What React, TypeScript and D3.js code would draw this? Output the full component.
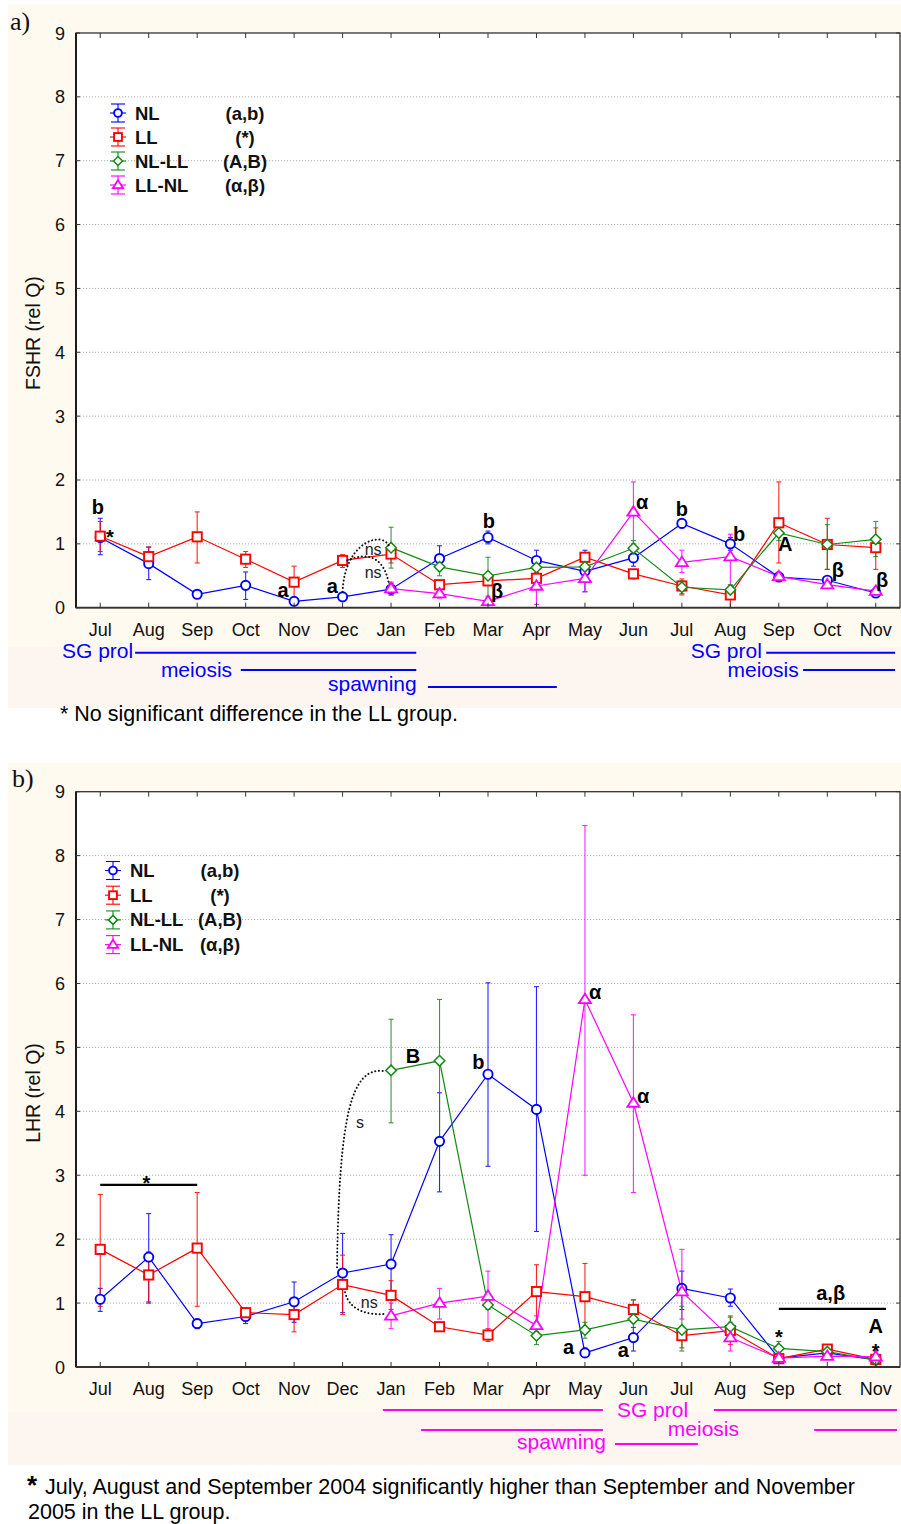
import * as d3 from 'd3';

const months = ['Jul', 'Aug', 'Sep', 'Oct', 'Nov', 'Dec', 'Jan', 'Feb', 'Mar', 'Apr', 'May', 'Jun', 'Jul', 'Aug', 'Sep', 'Oct', 'Nov'];
const yTicks = [0, 1, 2, 3, 4, 5, 6, 7, 8, 9];
const N = null;

// a) FSHR
const fshrNL = [1.10, 0.69, 0.21, 0.35, 0.10, 0.17, 0.29, 0.77, 1.10, 0.74, 0.57, 0.78, 1.32, 1.00, 0.48, 0.43, 0.23];
const fshrNLLo = [0.83, 0.44, 0.18, 0.13, 0.07, 0.14, 0.20, 0.59, 1.00, 0.59, 0.25, 0.65, 1.25, 0.90, 0.44, 0.38, 0.20];
const fshrNLHi = [1.40, 0.95, 0.24, 0.56, 0.13, 0.20, 0.38, 0.97, 1.20, 0.90, 0.90, 0.92, 1.38, 1.10, 0.52, 0.48, 0.26];
const fshrLL = [1.12, 0.80, 1.11, 0.76, 0.40, 0.74, 0.84, 0.36, 0.42, 0.46, 0.79, 0.53, 0.34, 0.20, 1.33, 0.99, 0.94];
const fshrLLLo = [0.88, 0.70, 0.70, 0.63, 0.13, 0.63, 0.70, 0.30, 0.36, 0.38, 0.72, 0.45, 0.20, 0.00, 0.70, 0.60, 0.60];
const fshrLLHi = [1.35, 0.95, 1.50, 0.88, 0.65, 0.83, 0.98, 0.42, 0.48, 0.55, 0.86, 0.60, 0.45, 0.32, 1.97, 1.40, 1.25];
const fshrNLLL = [N, N, N, N, N, N, 0.94, 0.64, 0.50, 0.63, 0.64, 0.93, 0.32, 0.28, 1.17, 0.99, 1.07];
const fshrNLLLLo = [N, N, N, N, N, N, 0.62, 0.50, 0.18, 0.50, 0.55, 0.80, 0.22, 0.20, 1.05, 0.60, 0.80];
const fshrNLLLHi = [N, N, N, N, N, N, 1.26, 0.78, 0.79, 0.75, 0.73, 1.05, 0.42, 0.36, 1.28, 1.30, 1.35];
const fshrLLNL = [N, N, N, N, N, N, 0.30, 0.22, 0.10, 0.34, 0.46, 1.50, 0.71, 0.80, 0.49, 0.36, 0.26];
const fshrLLNLLo = [N, N, N, N, N, N, 0.20, 0.15, 0.05, 0.05, 0.25, 1.00, 0.55, 0.35, 0.42, 0.30, 0.20];
const fshrLLNLHi = [N, N, N, N, N, N, 0.40, 0.30, 0.15, 0.60, 0.65, 1.97, 0.90, 1.15, 0.56, 0.42, 0.32];

// b) LHR
const lhrNL = [1.06, 1.72, 0.68, 0.79, 1.02, 1.47, 1.61, 3.53, 4.58, 4.03, 0.22, 0.46, 1.23, 1.08, 0.14, 0.22, 0.11];
const lhrNLLo = [0.87, 1.00, 0.60, 0.68, 0.70, 0.85, 1.10, 2.74, 3.14, 2.12, 0.16, 0.25, 0.90, 0.95, 0.10, 0.18, 0.08];
const lhrNLHi = [1.23, 2.40, 0.75, 0.85, 1.33, 2.09, 2.07, 4.29, 6.01, 5.95, 0.30, 0.62, 1.50, 1.22, 0.18, 0.26, 0.14];
const lhrLL = [1.84, 1.44, 1.86, 0.85, 0.82, 1.29, 1.12, 0.63, 0.50, 1.18, 1.10, 0.90, 0.49, 0.57, 0.13, 0.28, 0.12];
const lhrLLLo = [0.95, 1.02, 0.95, 0.78, 0.55, 0.82, 0.90, 0.58, 0.40, 0.70, 0.60, 0.70, 0.30, 0.35, 0.10, 0.22, 0.09];
const lhrLLHi = [2.70, 1.80, 2.73, 0.92, 1.00, 1.75, 1.35, 0.68, 0.60, 1.60, 1.62, 1.05, 0.62, 0.78, 0.16, 0.35, 0.15];
const lhrNLLL = [N, N, N, N, N, N, 4.64, 4.79, 0.97, 0.49, 0.58, 0.75, 0.58, 0.63, 0.29, 0.24, 0.11];
const lhrNLLLLo = [N, N, N, N, N, N, 3.82, 3.50, 0.90, 0.35, 0.45, 0.45, 0.25, 0.50, 0.18, 0.20, 0.08];
const lhrNLLLHi = [N, N, N, N, N, N, 5.44, 5.75, 1.05, 0.55, 0.70, 1.05, 0.95, 0.80, 0.40, 0.28, 0.14];
const lhrLLNL = [N, N, N, N, N, N, 0.80, 1.00, 1.11, 0.65, 5.75, 4.13, 1.18, 0.46, 0.14, 0.17, 0.16];
const lhrLLNLLo = [N, N, N, N, N, N, 0.60, 0.75, 0.50, 0.55, 3.00, 2.73, 0.75, 0.25, 0.10, 0.13, 0.10];
const lhrLLNLHi = [N, N, N, N, N, N, 1.00, 1.23, 1.50, 0.80, 8.47, 5.51, 1.84, 0.70, 0.18, 0.21, 0.25];

const groupNames = ['NL', 'LL', 'NL-LL', 'LL-NL'];
const groupCodes = ['(a,b)', '(*)', '(A,B)', '(α,β)'];
const groupColors = ['#0000ff', '#ff0000', '#138a13', '#ff00ff'];
const groupShapes = ['circle', 'square', 'diamond', 'triangle'];

// significance letters: [month index, value at baseline, text]
const notesA: [number, number, string][] = [
  [-0.05, 1.47, 'b'], [0.2, 1.0, '*'], [3.77, 0.17, 'a'], [4.79, 0.23, 'a'],
  [8.02, 1.25, 'b'], [8.19, 0.15, 'β'], [11.18, 1.55, 'α'], [12.0, 1.43, 'b'],
  [13.18, 1.04, 'b'], [14.13, 0.89, 'A'], [15.22, 0.48, 'β'], [16.13, 0.32, 'β'],
];
const notesB: [number, number, string][] = [
  [0.95, 2.77, '*'], [6.45, 4.76, 'B'], [7.8, 4.66, 'b'], [10.21, 5.76, 'α'],
  [11.2, 4.13, 'α'], [9.66, 0.2, 'a'], [10.79, 0.16, 'a'], [15.07, 1.05, 'a,β'],
  [16.0, 0.53, 'A'], [14.0, 0.36, '*'], [16.0, 0.14, '*'],
];
const smallA: [number, number, string][] = [[5.63, 0.83, 'ns'], [5.63, 0.47, 'ns']];
const smallB: [number, number, string][] = [[5.36, 3.74, 's'], [5.55, 0.92, 'ns']];

// dotted comparison arcs, cubic bezier in (month index, value)
const arcsA = [
  [[5.0, 0.25], [5.04, 1.06], [5.87, 1.22], [5.97, 0.94]],
  [[5.1, 0.74], [5.57, 0.9], [5.88, 0.75], [5.96, 0.35]],
];
const arcsB = [
  [[4.885, 1.56], [4.93, 4.0], [5.19, 4.69], [5.85, 4.63]],
  [[5.05, 1.17], [5.15, 0.86], [5.57, 0.81], [5.88, 0.83]],
];
const barsB = [[0, 2, 2.85], [14.0, 16.21, 0.91]];

// reproductive phases: label, text index, anchor, line spans
const phasesA = [
  { label: 'SG prol', at: 0.68, anchor: 'end', row: 0, spans: [[0.72, 6.52]] },
  { label: 'SG prol', at: 13.65, anchor: 'end', row: 0, spans: [[13.74, 16.4]] },
  { label: 'meiosis', at: 2.72, anchor: 'end', row: 1, spans: [[2.9, 6.52]] },
  { label: 'meiosis', at: 14.41, anchor: 'end', row: 1, spans: [[14.5, 16.4]] },
  { label: 'spawning', at: 6.53, anchor: 'end', row: 2, spans: [[6.76, 9.42]] },
];
const phasesB = [
  { label: 'SG prol', at: 10.66, anchor: 'start', row: 0, spans: [[5.83, 10.37], [12.66, 16.44]] },
  { label: 'meiosis', at: 11.71, anchor: 'start', row: 1, spans: [[6.62, 10.37], [14.73, 16.44]] },
  { label: 'spawning', at: 8.6, anchor: 'start', row: 2, spans: [[10.62, 12.33]] },
];
const rowA = [[45, 50], [62.3, 69], [79.3, 83.5]];
const rowB = [[43, 50], [63, 68.5], [77, 82]];

const FONT = '"Liberation Sans", Arial, Helvetica, sans-serif';
const X0 = 76;
const X1 = 900;

const marker = (shape: string, cx: number, cy: number, color: string, k = 1) => {
  const s = 4.6 * k;
  if (shape === 'circle')
    return <circle cx={cx} cy={cy} r={s} fill="#fff" stroke={color} strokeWidth={1.9} />;
  if (shape === 'square')
    return <rect x={cx - s} y={cy - s} width={2 * s} height={2 * s} fill="#fff" stroke={color} strokeWidth={1.9} />;
  if (shape === 'diamond') {
    const r = s * 1.15;
    return <path d={`M${cx},${cy - r}L${cx + r},${cy}L${cx},${cy + r}L${cx - r},${cy}Z`} fill="#fff" stroke={color} strokeWidth={1.5} />;
  }
  const r = s * 1.25;
  return <path d={`M${cx},${cy - r}L${cx + r * 1.05},${cy + r * 0.65}L${cx - r * 1.05},${cy + r * 0.65}Z`} fill="#fff" stroke={color} strokeWidth={1.8} />;
};

function Panel({ top, bottom, data, notes, small, arcs, bars, phases, rows, phaseColor, legX, legY, legStep, codeX, title, titleY }: any) {
  const x = d3.scaleLinear().domain([-0.5, 16.5]).range([X0, X1]);
  const y = d3.scaleLinear().domain([0, 9]).range([bottom, top]);
  const line = d3.line<number | null>()
    .defined((d) => d != null)
    .x((_, i) => x(i))
    .y((d) => y(d as number));

  return (
    <g fontFamily={FONT}>
      <rect x={X0} y={top} width={X1 - X0} height={bottom - top} fill="#fff" />
      {yTicks.slice(1, 9).map((t) => (
        <line key={t} x1={X0 + 4} x2={X1 - 4} y1={y(t)} y2={y(t)} stroke="#b0b0b0" strokeWidth={1} strokeDasharray="1.2 1.8" />
      ))}
      {/* series */}
      {data.map((s: any, k: number) => (
        <g key={k}>
          <path d={line(s.mean) || ''} fill="none" stroke={groupColors[k]} strokeWidth={1.2} />
          {s.mean.map((v: number | null, i: number) =>
            v == null ? null : (
              <g key={i} stroke={groupColors[k]} strokeWidth={1.1} opacity={0.85}>
                <line x1={x(i)} x2={x(i)} y1={y(s.lo[i])} y2={y(s.hi[i])} />
                <line x1={x(i) - 2.5} x2={x(i) + 2.5} y1={y(s.lo[i])} y2={y(s.lo[i])} />
                <line x1={x(i) - 2.5} x2={x(i) + 2.5} y1={y(s.hi[i])} y2={y(s.hi[i])} />
              </g>
            )
          )}
        </g>
      ))}
      {data.map((s: any, k: number) => (
        <g key={k}>
          {s.mean.map((v: number | null, i: number) =>
            v == null ? null : <g key={i}>{marker(groupShapes[k], x(i), y(v), groupColors[k])}</g>
          )}
        </g>
      ))}
      {/* frame and ticks */}
      <rect x={X0} y={top} width={X1 - X0} height={bottom - top} fill="none" stroke="#333" strokeWidth={1.3} />
      <line x1={X0} x2={X0} y1={top} y2={bottom} stroke="#111" strokeWidth={1.8} />
      <line x1={X0} x2={X1} y1={bottom} y2={bottom} stroke="#333" strokeWidth={1.8} />
      {months.map((m, i) => (
        <g key={i}>
          <line x1={x(i)} x2={x(i)} y1={bottom} y2={bottom - 5} stroke="#333" />
          <line x1={x(i)} x2={x(i)} y1={top} y2={top + 5} stroke="#333" />
          <text x={x(i)} y={bottom + 28} fontSize={18} textAnchor="middle" fill="#111">{m}</text>
        </g>
      ))}
      {yTicks.map((t) => (
        <g key={t}>
          <line x1={X0} x2={X0 + 4} y1={y(t)} y2={y(t)} stroke="#333" />
          <line x1={X1} x2={X1 - 4} y1={y(t)} y2={y(t)} stroke="#333" />
          <text x={X0 - 11} y={y(t) + 6.5} fontSize={18} textAnchor="end" fill="#111">{t}</text>
        </g>
      ))}
      <text transform={`translate(40,${titleY}) rotate(-90)`} fontSize={19.5} textAnchor="middle" fill="#111">{title}</text>
      {/* annotations */}
      {arcs.map((a: number[][], k: number) => (
        <path key={k} d={`M${x(a[0][0])},${y(a[0][1])}C${x(a[1][0])},${y(a[1][1])} ${x(a[2][0])},${y(a[2][1])} ${x(a[3][0])},${y(a[3][1])}`}
          fill="none" stroke="#111" strokeWidth={2} strokeDasharray="0.1 3.6" strokeLinecap="round" />
      ))}
      {bars.map((b: number[], k: number) => (
        <line key={k} x1={x(b[0])} x2={x(b[1])} y1={y(b[2])} y2={y(b[2])} stroke="#000" strokeWidth={2.2} />
      ))}
      {notes.map((n: [number, number, string], k: number) => (
        <text key={k} x={x(n[0])} y={y(n[1])} fontSize={20} fontWeight="bold" textAnchor="middle" fill="#000">{n[2]}</text>
      ))}
      {small.map((n: [number, number, string], k: number) => (
        <text key={k} x={x(n[0])} y={y(n[1])} fontSize={16} textAnchor="middle" fill="#222">{n[2]}</text>
      ))}
      {/* legend */}
      {groupNames.map((g, k) => {
        const ly = legY + k * legStep;
        return (
          <g key={g}>
            <g stroke={groupColors[k]} strokeWidth={1.1}>
              <line x1={legX} x2={legX} y1={ly - 9} y2={ly + 9} />
              <line x1={legX - 7} x2={legX + 7} y1={ly - 9} y2={ly - 9} />
              <line x1={legX - 7} x2={legX + 7} y1={ly + 9} y2={ly + 9} />
              <line x1={legX - 8} x2={legX + 8} y1={ly} y2={ly} />
            </g>
            {marker(groupShapes[k], legX, ly, groupColors[k], 0.85)}
            <text x={legX + 17} y={ly + 6.5} fontSize={18.5} fontWeight="bold" fill="#111">{g}</text>
            <text x={codeX} y={ly + 6.5} fontSize={18.5} fontWeight="bold" textAnchor="middle" fill="#111">{groupCodes[k]}</text>
          </g>
        );
      })}
      {/* phases */}
      {phases.map((p: any, k: number) => (
        <g key={k} fill={phaseColor} stroke={phaseColor}>
          {p.spans.map((sp: number[], j: number) => (
            <line key={j} x1={x(sp[0])} x2={x(sp[1])} y1={bottom + rows[p.row][0]} y2={bottom + rows[p.row][0]} strokeWidth={2} />
          ))}
          <text x={x(p.at)} y={bottom + rows[p.row][1]} fontSize={21} textAnchor={p.anchor} stroke="none">{p.label}</text>
        </g>
      ))}
    </g>
  );
}

const build = (m: any[], lo: any[], hi: any[]) => ({ mean: m, lo, hi });

export default function App() {
  const dataA = [
    build(fshrNL, fshrNLLo, fshrNLHi),
    build(fshrLL, fshrLLLo, fshrLLHi),
    build(fshrNLLL, fshrNLLLLo, fshrNLLLHi),
    build(fshrLLNL, fshrLLNLLo, fshrLLNLHi),
  ];
  const dataB = [
    build(lhrNL, lhrNLLo, lhrNLHi),
    build(lhrLL, lhrLLLo, lhrLLHi),
    build(lhrNLLL, lhrNLLLLo, lhrNLLLHi),
    build(lhrLLNL, lhrLLNLLo, lhrLLNLHi),
  ];
  return (
    <svg width={901} height={1524} style={{ position: 'absolute', left: 0, top: 0, background: '#fff' }}>
      <rect x={8} y={5} width={893} height={642} fill="#fefaef" />
      <rect x={8} y={647} width={893} height={61} fill="#fdf5ef" />
      <rect x={8} y={763} width={893} height={649} fill="#fefaef" />
      <rect x={8} y={1412} width={893} height={53} fill="#fdf5ef" />
      <text x={10} y={30} fontFamily='"Liberation Serif", "Times New Roman", serif' fontSize={26} fill="#111">a)</text>
      <text x={12} y={787} fontFamily='"Liberation Serif", "Times New Roman", serif' fontSize={26} fill="#111">b)</text>
      <Panel top={33} bottom={607.7} data={dataA} notes={notesA} small={smallA} arcs={arcsA} bars={[]}
        phases={phasesA} rows={rowA} phaseColor="#0000ff" legX={118} legY={113} legStep={24}
        codeX={245} title="FSHR (rel Q)" titleY={333} />
      <Panel top={791.7} bottom={1367} data={dataB} notes={notesB} small={smallB} arcs={arcsB} bars={barsB}
        phases={phasesB} rows={rowB} phaseColor="#ff00ff" legX={113} legY={870.5} legStep={24.7}
        codeX={220} title="LHR (rel Q)" titleY={1093} />
      <g fontFamily={FONT} fill="#000">
        <text x={60} y={721} fontSize={21.5}>* No significant difference in the LL group.</text>
        <text x={27} y={1494} fontSize={26} fontWeight="bold">*</text>
        <text x={45} y={1494} fontSize={21.5}>July, August and September 2004 significantly higher than September and November</text>
        <text x={28} y={1519} fontSize={21.5}>2005 in the LL group.</text>
      </g>
    </svg>
  );
}
